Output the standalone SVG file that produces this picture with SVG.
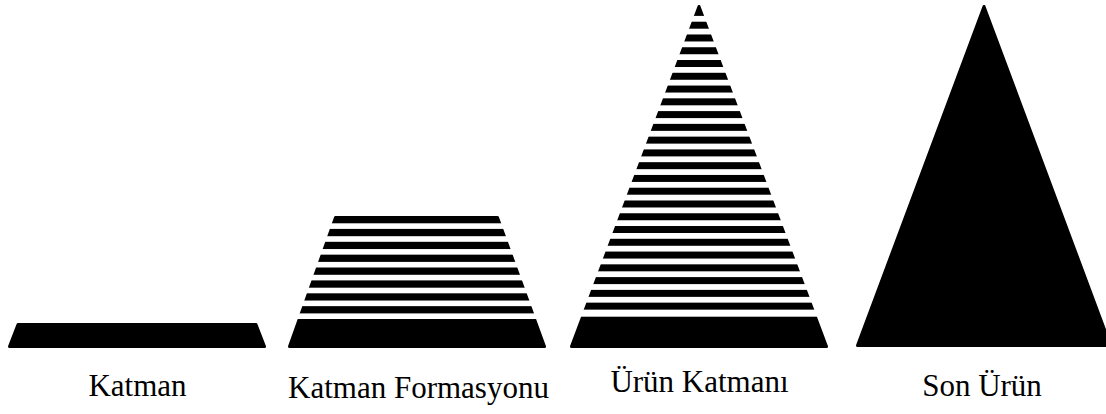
<svg xmlns="http://www.w3.org/2000/svg" width="1106" height="414" viewBox="0 0 1106 414">
<style>
.sh{fill:#000;stroke:#000;stroke-width:3;stroke-linejoin:round}
.gap{fill:#fff}
.lbl{font-family:"Liberation Serif","Times New Roman",serif;font-size:31px;fill:#000;text-anchor:middle}
</style>
<rect width="1106" height="414" fill="#fff"/>
<g id="katman">
<polygon class="sh" points="18,324.5 256,324.5 264.5,346.5 9.5,346.5"/>
<text class="lbl" x="137.5" y="396">Katman</text>
</g>
<g id="katman-formasyonu">
<polygon class="sh" points="335.5,217.5 497.5,217.5 544.5,346.5 289.5,346.5"/>
<g class="gap">
<rect x="280" y="223.3" width="280" height="5.6"/>
<rect x="280" y="236.2" width="280" height="5.6"/>
<rect x="280" y="249.05" width="280" height="5.6"/>
<rect x="280" y="261.9" width="280" height="5.6"/>
<rect x="280" y="274.8" width="280" height="5.6"/>
<rect x="280" y="287.7" width="280" height="5.6"/>
<rect x="280" y="300.55" width="280" height="5.6"/>
<rect x="280" y="313.4" width="280" height="5.6"/>
</g>
<text class="lbl" x="418.5" y="398">Katman Formasyonu</text>
</g>
<g id="urun-katmani">
<polygon class="sh" points="699,6.5 826.5,346.5 571.5,346.5"/>
<g class="gap">
<rect x="560" y="15.9" width="280" height="5.8"/>
<rect x="560" y="28.7" width="280" height="5.77"/>
<rect x="560" y="41.47" width="280" height="5.77"/>
<rect x="560" y="54.24" width="280" height="5.77"/>
<rect x="560" y="67.01" width="280" height="5.77"/>
<rect x="560" y="79.78" width="280" height="5.77"/>
<rect x="560" y="92.55" width="280" height="5.77"/>
<rect x="560" y="105.32" width="280" height="5.77"/>
<rect x="560" y="118.09" width="280" height="5.77"/>
<rect x="560" y="130.86" width="280" height="5.77"/>
<rect x="560" y="143.63" width="280" height="5.77"/>
<rect x="560" y="156.4" width="280" height="5.77"/>
<rect x="560" y="169.17" width="280" height="5.77"/>
<rect x="560" y="181.94" width="280" height="5.77"/>
<rect x="560" y="194.71" width="280" height="5.77"/>
<rect x="560" y="207.48" width="280" height="5.77"/>
<rect x="560" y="220.25" width="280" height="5.77"/>
<rect x="560" y="233.02" width="280" height="5.77"/>
<rect x="560" y="245.79" width="280" height="5.77"/>
<rect x="560" y="258.56" width="280" height="5.77"/>
<rect x="560" y="271.33" width="280" height="5.77"/>
<rect x="560" y="284.1" width="280" height="5.77"/>
<rect x="560" y="296.87" width="280" height="5.77"/>
<rect x="560" y="309.64" width="280" height="7.06"/>
</g>
<text class="lbl" x="699.5" y="392">Ürün Katmanı</text>
</g>
<g id="son-urun">
<polygon class="sh" points="984,6.5 1110.5,345.5 857.5,345.5"/>
<text class="lbl" x="982" y="396">Son Ürün</text>
</g>
<g id="connectors"/>
</svg>
